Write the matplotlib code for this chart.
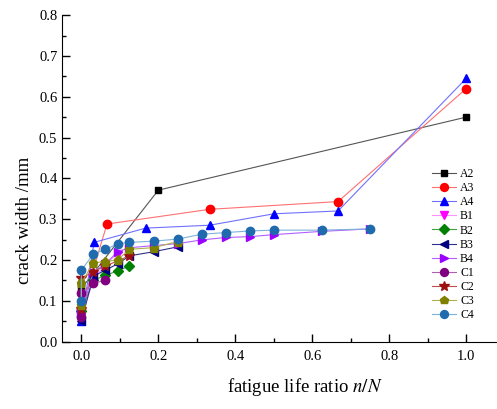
import numpy as np
import matplotlib
matplotlib.use("Agg")
import matplotlib.pyplot as plt
from matplotlib.ticker import MultipleLocator

plt.rcParams['font.family'] = ['Liberation Serif', 'DejaVu Serif']
plt.rcParams['mathtext.fontset'] = 'stix'

# data
labels = ['A2', 'A3', 'A4', 'B1', 'B2', 'B3', 'B4', 'C1', 'C2', 'C3', 'C4']

x_A2 = [0.0, 0.2, 1.0]
y_A2 = [0.13, 0.371, 0.55]
x_A3 = [0.0, 0.0667, 0.333, 0.667, 1.0]
y_A3 = [0.08, 0.288, 0.324, 0.343, 0.62]
x_A4 = [0.0, 0.033, 0.167, 0.333, 0.5, 0.667, 1.0]
y_A4 = [0.05, 0.243, 0.278, 0.285, 0.313, 0.32, 0.645]
x_B1 = [0.0, 0.031, 0.0625, 0.094]
y_B1 = [0.06, 0.15, 0.19, 0.215]
x_B2 = [0.0, 0.031, 0.0625, 0.094, 0.125]
y_B2 = [0.075, 0.15, 0.162, 0.173, 0.185]
x_B3 = [0.0, 0.031, 0.0625, 0.094, 0.125, 0.1875, 0.25]
y_B3 = [0.05, 0.16, 0.175, 0.19, 0.21, 0.22, 0.232]
x_B4 = [0.0, 0.031, 0.0625, 0.094, 0.125, 0.1875, 0.25, 0.3125, 0.375, 0.4375, 0.5, 0.625, 0.75]
y_B4 = [0.07, 0.17, 0.19, 0.22, 0.23, 0.235, 0.24, 0.249, 0.255, 0.257, 0.262, 0.27, 0.276]
x_C1 = [0.0, 0.0, 0.031, 0.0625]
y_C1 = [0.06, 0.12, 0.143, 0.15]
x_C2 = [0.0, 0.0, 0.031, 0.0625, 0.125]
y_C2 = [0.08, 0.155, 0.171, 0.185, 0.21]
x_C3 = [0.0, 0.0, 0.031, 0.0625, 0.094, 0.125, 0.1875, 0.25]
y_C3 = [0.09, 0.143, 0.193, 0.196, 0.2, 0.226, 0.23, 0.245]
x_C4 = [0.0, 0.0, 0.031, 0.0625, 0.094, 0.125, 0.1875, 0.25, 0.3125, 0.375, 0.4375, 0.5, 0.625, 0.75]
y_C4 = [0.1, 0.175, 0.214, 0.226, 0.239, 0.243, 0.246, 0.251, 0.263, 0.267, 0.271, 0.273, 0.273, 0.276]

xs = [x_A2, x_A3, x_A4, x_B1, x_B2, x_B3, x_B4, x_C1, x_C2, x_C3, x_C4]
ys = [y_A2, y_A3, y_A4, y_B1, y_B2, y_B3, y_B4, y_C1, y_C2, y_C3, y_C4]

markers = ['s', 'o', '^', 'v', 'D', '<', '>', 'o', '*', 'p', 'o']
mcolors = ['black', 'red', 'blue', '#FF00FF', '#008000', '#000080', '#9900FF',
           '#800080', '#9E1010', '#808000', '#1F6BAE']
lcolors = ['#555555', '#FF7070', '#7070FF', '#FF90FF', '#40A040', '#303090', '#B060FF',
           '#B060B0', '#C05050', '#B0B050', '#7FB2DA']
msizes = [5, 6, 6, 6, 5, 6, 6, 6, 7.5, 6.5, 6]

fig = plt.figure(figsize=(4.97, 4.09), dpi=100)
ax = fig.add_axes([0.125, 0.165, 0.875, 0.798])

for i in range(len(labels)):
    ax.plot(xs[i], ys[i], color=lcolors[i], lw=0.8, marker=markers[i],
            ms=msizes[i], mfc=mcolors[i], mec=mcolors[i], label=labels[i])

ax.set_xlim(-0.05, 1.08)
ax.set_ylim(0.0, 0.8)
ax.xaxis.set_major_locator(MultipleLocator(0.2))
ax.xaxis.set_minor_locator(MultipleLocator(0.1))
ax.yaxis.set_major_locator(MultipleLocator(0.1))
ax.yaxis.set_minor_locator(MultipleLocator(0.05))
ax.xaxis.set_major_formatter(plt.FormatStrFormatter('%.1f'))
ax.yaxis.set_major_formatter(plt.FormatStrFormatter('%.1f'))
ax.tick_params(which='both', direction='in', labelsize=10.5, width=1)
ax.tick_params(which='major', length=6)
ax.tick_params(which='minor', length=3)
ax.tick_params(axis='x', pad=6)
ax.spines['top'].set_visible(False)
ax.spines['right'].set_visible(False)

ax.set_xlabel('fatigue life ratio $n/N$', fontsize=13.5)
ax.xaxis.set_label_coords(0.559, -0.106)
ax.set_ylabel('crack width /mm', fontsize=13.5)
ax.yaxis.set_label_coords(-0.067, 0.372)

ax.legend(loc='upper left', bbox_to_anchor=(0.8686, 0.589), bbox_transform=fig.transFigure,
          frameon=False, fontsize=8.5, handlelength=2.1, labelspacing=0.18,
          borderaxespad=0, borderpad=0, handletextpad=0.3, markerscale=0.95)

plt.savefig("out.png", dpi=100)
